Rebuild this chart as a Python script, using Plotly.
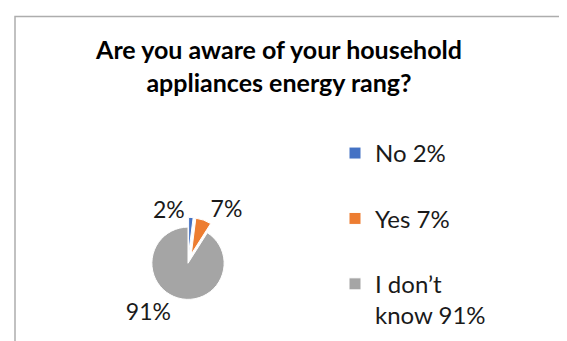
import plotly.graph_objects as go

# ---- data ----
categories = ["No", "Yes", "I don\u2019t know"]
values = [2, 7, 91]
legend_labels = ["No 2%", "Yes 7%", "I don\u2019t<br>know 91%"]
colors = ["#4472C4", "#ED7D31", "#A5A5A5"]
title_text = "Are you aware of your household<br>appliances energy rang?"

W, H = 567, 341
FONT = "Lato"

# pad single-line legend entries so every entry takes two lines (spacing as in reference)
legend_text = [lab if "<br>" in lab else lab + "<br> " for lab in legend_labels]

# the smallest slice gets its label to the left of the pie top (placed as annotation)
text_pos = ["none", "outside", "outside"]

cx, cy, rad = 180, 272, 38.5
pulls = [0.27, 0.27, 0]
half = rad * (1 + max(pulls))

fig = go.Figure(
    go.Pie(
        labels=legend_text,
        values=values,
        customdata=categories,
        sort=False,
        direction="clockwise",
        rotation=0,
        pull=pulls,
        marker=dict(colors=colors, line=dict(color="white", width=1)),
        texttemplate="%{value}%",
        textposition=text_pos,
        textfont=dict(family=FONT, size=23, color="#1a1a1a"),
        domain=dict(x=[(cx - half) / W, (cx + half) / W],
                    y=[1 - (cy + half) / H, 1 - (cy - half) / H]),
        hoverinfo="label+percent",
    )
)

fig.update_layout(
    width=W,
    height=H,
    margin=dict(l=0, r=0, t=0, b=0),
    paper_bgcolor="white",
    plot_bgcolor="white",
    title=dict(
        text=title_text,
        x=271 / W,
        xanchor="center",
        y=1 - 51 / H,
        yanchor="middle",
        font=dict(family=FONT, size=25, color="#000000", weight="bold"),
    ),
    legend=dict(
        x=327 / W,
        xanchor="left",
        y=1 - 131 / H,
        yanchor="top",
        valign="top",
        font=dict(family=FONT, size=24, color="#1a1a1a"),
        bgcolor="rgba(0,0,0,0)",
    ),
    annotations=[
        dict(
            text=f"{values[0]}%",
            xref="paper",
            yref="paper",
            x=179 / W,
            y=1 - 214 / H,
            xanchor="right",
            yanchor="middle",
            showarrow=False,
            font=dict(family=FONT, size=23, color="#1a1a1a"),
        )
    ],
    shapes=[
        dict(
            type="rect",
            xref="paper",
            yref="paper",
            x0=7 / W,
            x1=1.5,
            y0=-0.5,
            y1=1 - 9 / H,
            line=dict(color="#ADADAD", width=1.5),
            fillcolor="rgba(0,0,0,0)",
            layer="below",
        )
    ],
)

fig.write_html("out.html")
